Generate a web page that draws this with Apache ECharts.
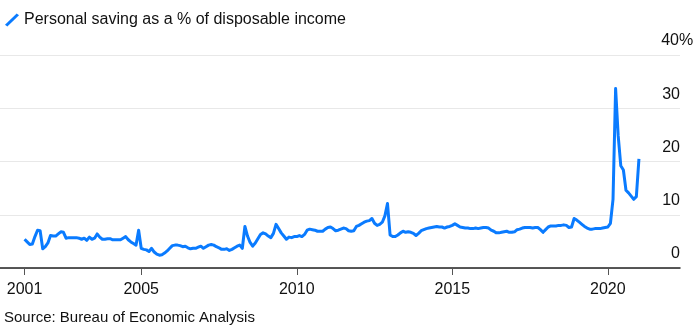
<!DOCTYPE html>
<html>
<head>
<meta charset="utf-8">
<script src="https://cdn.jsdelivr.net/npm/echarts@6/dist/echarts.min.js"></script>
<style>
html,body{margin:0;padding:0;background:#fff;}
#c{width:700px;height:331px;}
</style>
</head>
<body>
<div id="c"></div>
<script>
// Monthly personal saving rate (%), April 2001 – January 2021
const startYear = 2001;
const startMonth = 4;
const savingRate = [
  5.4, 4.9, 4.4, 4.5, 5.9, 7.1, 7.0, 3.6, 4.0,
  4.7, 6.1, 6.0, 6.0, 6.4, 6.8, 6.7, 5.6, 5.7, 5.7, 5.7, 5.7,
  5.6, 5.4, 5.6, 5.2, 5.8, 5.4, 5.6, 6.4, 5.8, 5.4, 5.4, 5.5,
  5.5, 5.3, 5.3, 5.3, 5.3, 5.6, 5.9, 5.3, 4.9, 4.6, 4.3, 7.1,
  3.7, 3.5, 3.4, 3.1, 3.7, 3.0, 2.6, 2.4, 2.5, 2.8, 3.2, 3.7,
  4.2, 4.3, 4.3, 4.2, 4.0, 4.1, 3.8, 3.6, 3.7, 3.7, 3.9, 4.1,
  3.7, 4.0, 4.3, 4.4, 4.3, 4.0, 3.8, 3.5, 3.5, 3.6, 3.3, 3.5,
  3.8, 4.1, 4.3, 3.7, 7.8, 6.0, 4.8, 4.1, 4.7, 5.5, 6.3, 6.6,
  6.4, 6.0, 5.7, 6.5, 8.2, 7.4, 6.6, 6.0, 5.4, 5.8, 5.7, 5.9,
  5.9, 6.1, 5.9, 6.3, 7.1, 7.3, 7.2, 7.1, 6.9, 6.9, 6.9, 7.3,
  7.6, 7.7, 7.4, 7.0, 7.1, 7.3, 7.5, 7.4, 7.0, 6.9, 7.0, 7.8,
  8.0, 8.3, 8.6, 8.8, 8.9, 9.3, 8.4, 8.0, 8.2, 8.6, 9.8, 12.1,
  6.2, 5.9, 5.9, 6.2, 6.6, 6.9, 6.7, 6.8, 6.7, 6.5, 6.1, 6.5,
  7.0, 7.2, 7.4, 7.5, 7.6, 7.7, 7.8, 7.7, 7.7, 7.5, 7.7, 7.8,
  8.0, 8.3, 8.0, 7.7, 7.6, 7.5, 7.5, 7.4, 7.4, 7.5, 7.4, 7.5,
  7.6, 7.6, 7.5, 7.1, 6.9, 6.6, 6.6, 6.7, 6.8, 6.9, 6.7, 6.7,
  6.8, 7.2, 7.3, 7.5, 7.6, 7.6, 7.6, 7.5, 7.6, 7.6, 7.2, 6.7,
  7.2, 7.7, 7.9, 7.9, 7.9, 8.0, 8.0, 8.1, 8.0, 7.6, 7.7, 9.3,
  9.0, 8.6, 8.2, 7.8, 7.5, 7.3, 7.3, 7.4, 7.4, 7.4, 7.5, 7.6,
  7.7, 8.4, 12.9, 33.7, 24.8, 19.2, 18.4, 14.6, 14.1, 13.5, 12.9, 13.4,
  20.5
];
const xTickYears = [2001.25, 2005, 2010, 2015, 2020];
const yTicks = [0, 10, 20, 30, 40];
const seriesName = 'Personal saving as a % of disposable income';
const sourceText = 'Source: Bureau of Economic Analysis';

const points = savingRate.map((v, i) => [startYear + (startMonth - 1 + i) / 12, v]);

const chart = echarts.init(document.getElementById('c'), null, {renderer: 'canvas'});
const FONT = '"Liberation Sans", Arial, sans-serif';
chart.setOption({
  animation: false,
  textStyle: {fontFamily: FONT},
  title: {
    text: sourceText,
    left: 4, top: 310, padding: 0,
    textStyle: {fontSize: 15, fontWeight: 'normal', color: '#111', fontFamily: FONT}
  },
  legend: {
    left: 5, top: 12, padding: 0,
    itemWidth: 14, itemHeight: 13,
    icon: 'path://M0,10 L10,0.5 L12,2 L2,11.5 Z',
    textStyle: {fontSize: 16, color: '#111', fontFamily: FONT},
    data: [seriesName]
  },
  grid: {left: 0, right: 20, top: 55, bottom: 63},
  xAxis: {
    type: 'value',
    min: 2000.46, max: 2022.32,
    splitLine: {show: false},
    axisLine: {lineStyle: {color: '#222', width: 1.5}},
    axisTick: {show: true, length: 7, customValues: xTickYears, lineStyle: {color: '#555', width: 1}},
    axisLabel: {
      customValues: xTickYears,
      formatter: v => String(Math.floor(v)),
      fontSize: 16, color: '#111', margin: 14, fontFamily: FONT
    }
  },
  yAxis: {
    type: 'value',
    position: 'right',
    min: 0, max: 40, interval: 10,
    axisLine: {show: false},
    axisTick: {show: false},
    splitLine: {lineStyle: {color: '#e8e8e8', width: 1}},
    axisLabel: {
      inside: true, margin: 0, align: 'right', verticalAlign: 'bottom',
      padding: [0, 0, 6, 0],
      fontSize: 16, color: '#111', fontFamily: FONT,
      formatter: v => v === 40 ? '{n|40}{p|%}' : '{n|' + v + '}',
      rich: {
        n: {fontSize: 16, color: '#111', fontFamily: FONT, align: 'left'},
        p: {fontSize: 16, color: '#111', fontFamily: FONT, width: 1, align: 'left'}
      }
    }
  },
  series: [{
    name: seriesName,
    type: 'line',
    data: points,
    showSymbol: false,
    color: '#0a7bff',
    lineStyle: {width: 3, color: '#0a7bff', join: 'round'}
  }]
});
</script>
</body>
</html>
